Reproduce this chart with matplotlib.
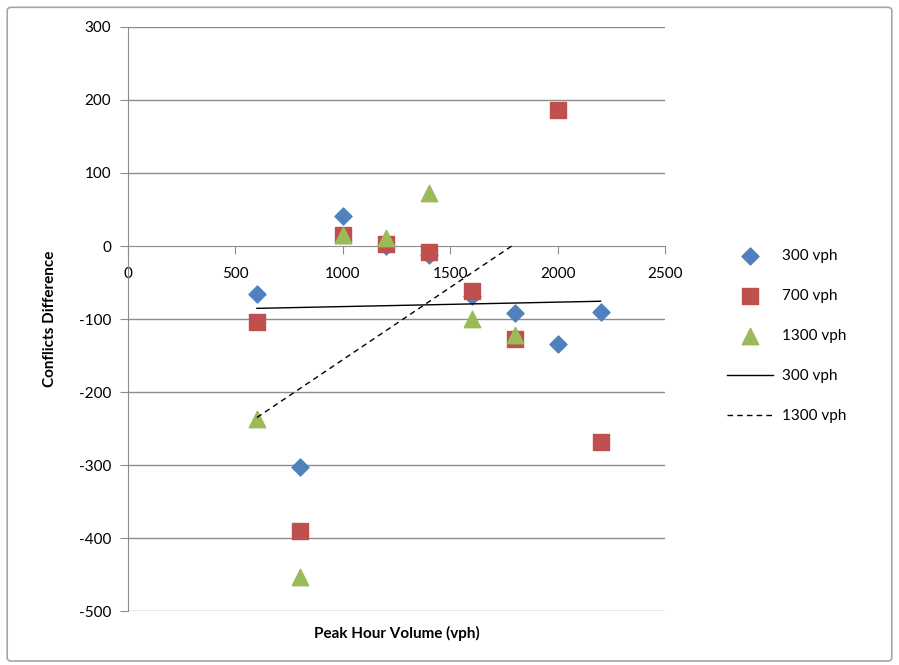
import numpy as np
import matplotlib
matplotlib.use("Agg")
import matplotlib.pyplot as plt
from matplotlib.patches import FancyBboxPatch

plt.rcParams['font.family'] = ['Lato', 'DejaVu Sans']
plt.rcParams['axes.unicode_minus'] = False

x_vals = [600, 800, 1000, 1200, 1400, 1600, 1800, 2000, 2200]
y_300 = [-66, -303, 41, 0, -12, -68, -92, -134, -91]
y_700 = [-104, -390, 15, 3, -8, -62, -127, 186, -268]
x_1300 = [600, 800, 1000, 1200, 1400, 1600, 1800]
y_1300 = [-237, -453, 15, 11, 73, -100, -122]

labels = ['300 vph', '700 vph', '1300 vph', '300 vph', '1300 vph']
x_ticks = [0, 500, 1000, 1500, 2000, 2500]
y_ticks = [-500, -400, -300, -200, -100, 0, 100, 200, 300]

fig = plt.figure(figsize=(8.99, 6.65), dpi=100)
fig.patches.append(FancyBboxPatch((0.008, 0.006), 0.984, 0.983, boxstyle="round,pad=0,rounding_size=0.005",
                                  transform=fig.transFigure, fill=False, edgecolor='#A6A6A6', lw=1.2))
ax = fig.add_axes([0.1424, 0.0812, 0.5973, 0.8782])

ax.set_xlim(0, 2500)
ax.set_ylim(-500, 300)
for yv in y_ticks:
    if yv != 0:
        ax.axhline(yv, color='#8C8C8C', lw=1.0, zorder=0)

ax.scatter(x_vals, y_300, marker='D', s=75, color='#4F81BD', zorder=3, label=labels[0])
ax.scatter(x_vals, y_700, marker='s', s=120, color='#C0504D', zorder=3, label=labels[1])
ax.scatter(x_1300, y_1300, marker='^', s=140, color='#9BBB59', zorder=3, label=labels[2])

c1 = np.polyfit(x_vals, y_300, 1)
xs1 = np.array([min(x_vals), max(x_vals)])
ax.plot(xs1, np.polyval(c1, xs1), color='black', lw=1.0, zorder=4, label=labels[3])
c3 = np.polyfit(x_1300, y_1300, 1)
xs3 = np.array([min(x_1300), max(x_1300)])
ax.plot(xs3, np.polyval(c3, xs3), color='black', lw=1.0, ls=(0, (4, 3)), zorder=4, label=labels[4])

ax.spines['top'].set_visible(False)
ax.spines['right'].set_visible(False)
ax.spines['bottom'].set_position(('data', 0))
ax.spines['bottom'].set_color('#8C8C8C')
ax.spines['left'].set_color('#8C8C8C')
ax.set_xticks(x_ticks)
ax.set_yticks(y_ticks)
ax.tick_params(axis='x', direction='out', length=6, pad=9, colors='#8C8C8C', labelcolor='black', labelsize=11)
ax.tick_params(axis='y', direction='out', length=6, pad=6, colors='#8C8C8C', labelcolor='black', labelsize=11)

ax.set_ylabel('Conflicts Difference', fontsize=11, fontweight='bold', labelpad=16)
ax.set_xlabel('Peak Hour Volume (vph)', fontsize=11, fontweight='bold')
ax.xaxis.set_label_coords(0.5, -0.025)

leg = ax.legend(loc='center left', bbox_to_anchor=(1.09, 0.471), frameon=False, fontsize=11,
                handlelength=3.0, labelspacing=1.7, handletextpad=0.6)

fig.savefig('out.png', dpi=100)
